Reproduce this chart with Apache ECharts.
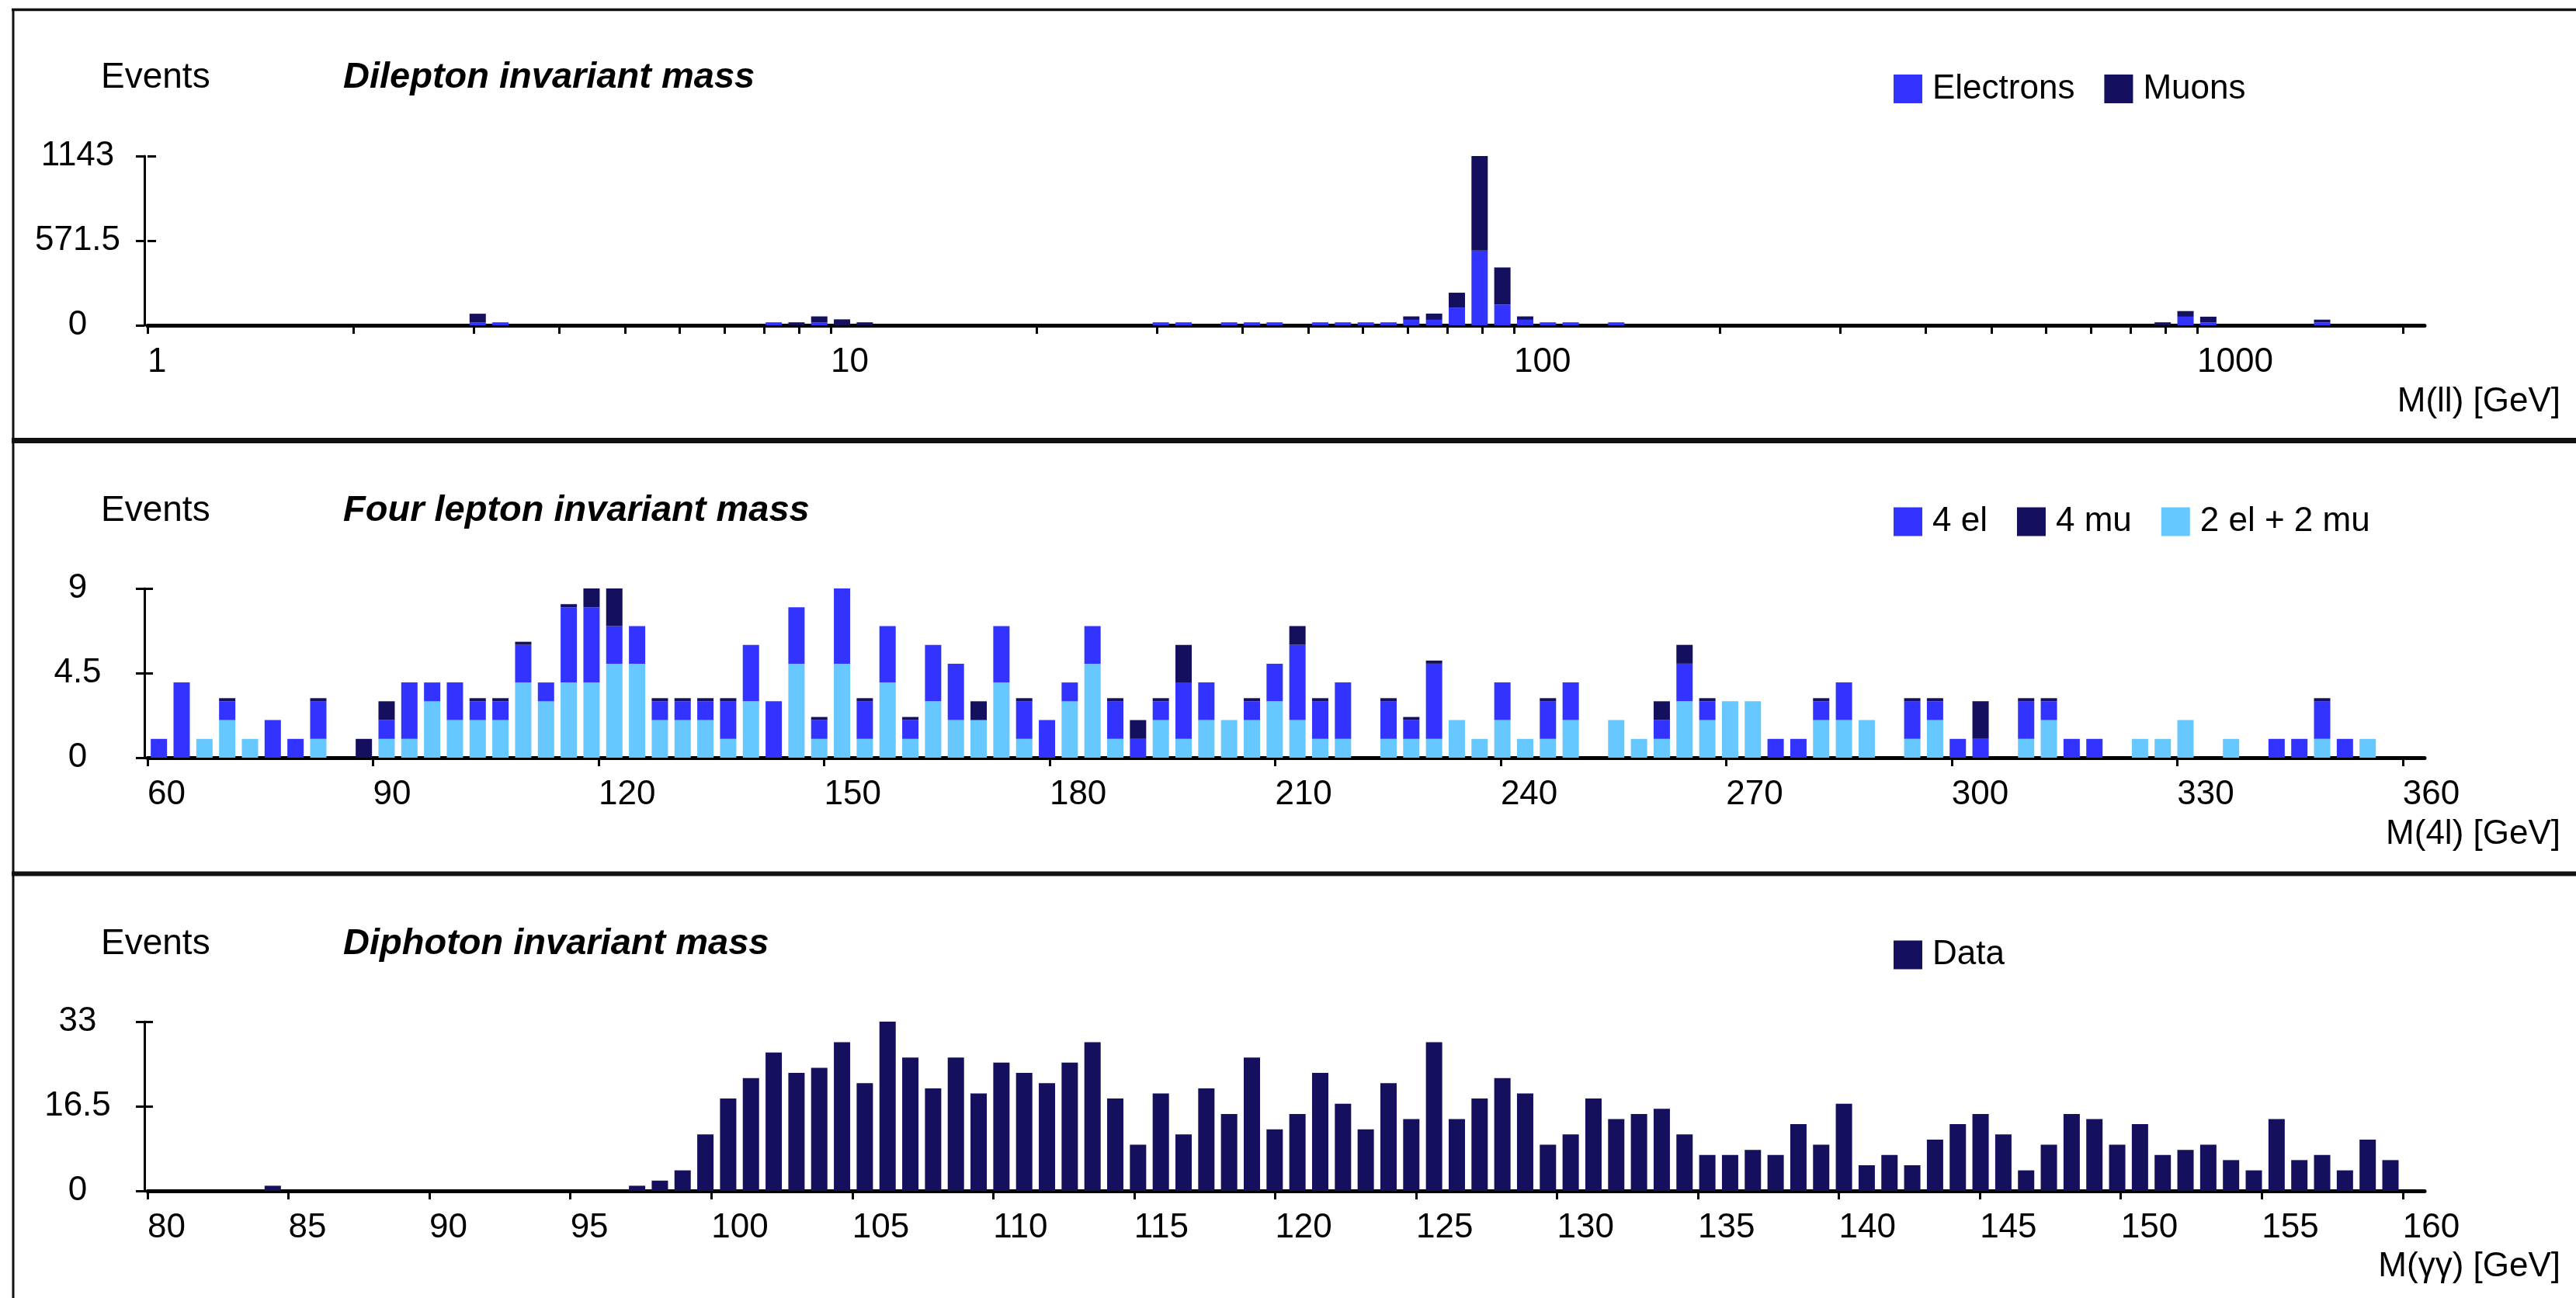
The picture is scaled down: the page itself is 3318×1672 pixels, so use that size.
<!DOCTYPE html>
<html>
<head>
<meta charset="utf-8">
<title>Invariant mass spectra</title>
<script src="https://cdn.jsdelivr.net/npm/echarts@6/dist/echarts.min.js"></script>
<style>
  html, body { margin: 0; padding: 0; background: #fff; }
  #chart { width: 3318px; height: 1672px; }
</style>
</head>
<body>
<div id="chart"></div>
<script>
// every panel is a 100 bin histogram; bin index -> counts

// dilepton, 30 log bins per decade starting at 1 GeV
const dileptonBins = [14, 15, 27, 28, 29, 30, 31, 44, 45, 47, 48, 49, 51, 52, 53, 54, 55, 56, 57, 58, 59, 60, 61, 62, 64, 88, 89, 90, 95];
const electrons    = [20, 20, 20, 0, 20, 0, 0, 20, 20, 20, 20, 20, 20, 20, 20, 20, 37, 37, 120, 505, 140, 37, 20, 20, 20, 0, 58, 19, 19];
const muons        = [58, 0, 0, 20, 40, 40, 20, 0, 0, 0, 0, 0, 0, 0, 0, 0, 23, 42, 100, 638, 250, 23, 0, 0, 0, 20, 38, 39, 19];
const dileptonTicks  = [1, 2, 3, 4, 5, 6, 7, 8, 9, 10, 20, 30, 40, 50, 60, 70, 80, 90, 100, 200, 300, 400, 500, 600, 700, 800, 900, 1000, 2000];
const dileptonLabels = [1, 10, 100, 1000];

// four lepton, 3 GeV bins from 60 GeV (null = no 4 mu entry, 0 = empty entry)
const fourLepBins = [0, 1, 2, 3, 4, 5, 6, 7, 9, 10, 11, 12, 13, 14, 15, 16, 17, 18, 19, 20, 21, 22, 23, 24, 25, 26, 27, 28, 29, 30,
  31, 32, 33, 34, 35, 36, 37, 38, 39, 40, 41, 42, 43, 44, 45, 46, 47, 48, 49, 50, 51, 52, 54, 55, 56, 57, 58, 59, 60, 61, 62,
  64, 65, 66, 67, 68, 69, 70, 71, 72, 73, 74, 75, 77, 78, 79, 80, 82, 83, 84, 85, 87, 88, 89, 91, 93, 94, 95, 96, 97];
const twoElTwoMu = [0, 0, 1, 2, 1, 0, 0, 1, 0, 1, 1, 3, 2, 2, 2, 4, 3, 4, 4, 5, 5, 2, 2, 2, 1, 3, 0, 5, 1, 5,
  1, 4, 1, 3, 2, 2, 4, 1, 0, 3, 5, 1, 0, 2, 1, 2, 2, 2, 3, 2, 1, 1, 1, 1, 1, 2, 1, 2, 1, 1, 2,
  2, 1, 1, 3, 2, 3, 3, 0, 0, 2, 2, 2, 1, 2, 0, 0, 1, 2, 0, 0, 1, 1, 2, 1, 0, 0, 1, 0, 1];
const fourEl = [1, 4, 0, 1, 0, 2, 1, 2, 0, 1, 3, 1, 2, 1, 1, 2, 1, 4, 4, 2, 2, 1, 1, 1, 2, 3, 3, 3, 1, 4,
  2, 3, 1, 3, 3, 0, 3, 2, 2, 1, 2, 2, 1, 1, 3, 2, 0, 1, 2, 4, 2, 3, 2, 1, 4, 0, 0, 2, 0, 2, 2,
  0, 0, 1, 2, 1, 0, 0, 1, 1, 1, 2, 0, 2, 1, 1, 1, 2, 1, 1, 1, 0, 0, 0, 0, 1, 1, 2, 1, 0];
const fourMu = [null, null, null, 0, null, null, null, 0, 1, 1, null, null, null, 0, 0, 0, null, 0, 1, 2, null, 0, 0, 0, 0, null, null, null, 0, 0,
  0, null, 0, null, null, 1, null, 0, null, null, null, 0, 1, 0, 2, null, null, 0, null, 1, 0, null, 0, 0, 0, null, null, null, null, 0, null,
  null, null, 1, 1, 0, null, null, null, null, 0, null, null, 0, 0, null, 2, 0, 0, null, null, null, null, null, null, null, null, 0, null, null];
const fourLepTicks = [60, 90, 120, 150, 180, 210, 240, 270, 300, 330, 360];

// diphoton, 0.8 GeV bins from 80 GeV
const diphotonBins = [5, 21, 22, 23, 24, 25, 26, 27, 28, 29, 30, 31, 32, 33, 34, 35, 36, 37, 38, 39, 40,
  41, 42, 43, 44, 45, 46, 47, 48, 49, 50, 51, 52, 53, 54, 55, 56, 57, 58, 59, 60,
  61, 62, 63, 64, 65, 66, 67, 68, 69, 70, 71, 72, 73, 74, 75, 76, 77, 78, 79, 80,
  81, 82, 83, 84, 85, 86, 87, 88, 89, 90, 91, 92, 93, 94, 95, 96, 97, 98];
const diphotonCounts = [1, 1, 2, 4, 11, 18, 22, 27, 23, 24, 29, 21, 33, 26, 20, 26, 19, 25, 23, 21, 25,
  29, 18, 9, 19, 11, 20, 15, 26, 12, 15, 23, 17, 12, 21, 14, 29, 14, 18, 22, 19,
  9, 11, 18, 14, 15, 16, 11, 7, 7, 8, 7, 13, 9, 17, 5, 7, 5, 10, 13, 15,
  11, 4, 9, 15, 14, 9, 13, 7, 8, 9, 6, 4, 14, 6, 7, 4, 10, 6];
const diphotonTicks = [80, 85, 90, 95, 100, 105, 110, 115, 120, 125, 130, 135, 140, 145, 150, 155, 160];

const BLUE = '#3333ff';
const DARK = '#14105e';
const LIGHT = '#66c8ff';
const FONT = '"Liberation Sans", Arial, Helvetica, sans-serif';

const NBINS = 100;
const GRID_LEFT = 190;
const GRID_W = 2933;
const GRID_H = 218;
const gridTops = [201, 758, 1316];
const binCats = Array.from({ length: NBINS }, (_, i) => String(i));

function fill(bins, vals) {
  const out = new Array(NBINS).fill(null);
  bins.forEach((b, k) => { out[b] = vals[k]; });
  return out;
}

const log10 = v => Math.log10(v);

function xAxes(gi, min, max, ticks, labels, fmt) {
  return [
    { type: 'category', gridIndex: gi, data: binCats, show: false },
    {
      type: 'value', gridIndex: gi, position: 'bottom', min: min, max: max,
      axisLine: { show: true, onZero: false, lineStyle: { color: '#000', width: 5 } },
      axisTick: { show: true, customValues: ticks, length: 11, lineStyle: { color: '#000', width: 3 } },
      axisLabel: { customValues: labels, formatter: fmt, align: 'left', margin: 26, fontSize: 44, fontFamily: FONT, color: '#000' },
      splitLine: { show: false }
    }
  ];
}

function yAxes(gi, max) {
  return [
    {
      type: 'value', gridIndex: gi, min: 0, max: max, interval: max / 2, position: 'left', offset: 4,
      axisLine: { show: true, onZero: false, lineStyle: { color: '#000', width: 3 } },
      axisTick: { show: true, length: 11, lineStyle: { color: '#000', width: 3 } },
      axisLabel: { align: 'center', margin: 86, fontSize: 44, fontFamily: FONT, color: '#000', formatter: v => String(v) },
      splitLine: { show: false }
    },
    {
      // second copy only for the inner half of the cross ticks
      type: 'value', gridIndex: gi, min: 0, max: max, interval: max / 2, position: 'left', offset: 4,
      axisLine: { show: false }, axisLabel: { show: false }, splitLine: { show: false },
      axisTick: { show: true, inside: true, length: 11, lineStyle: { color: '#000', width: 3 } }
    }
  ];
}

function legend(names, top) {
  return {
    data: names, left: 2439, top: top, orient: 'horizontal', padding: 0,
    icon: 'rect', itemWidth: 37, itemHeight: 37, itemGap: 38, selectedMode: false,
    textStyle: { fontSize: 44, fontFamily: FONT, color: '#000', padding: [0, 0, 0, 8] }
  };
}

function text(str, x, y, font, align) {
  return {
    type: 'text', x: x, y: y, silent: true,
    style: { text: str, font: font, fill: '#000', align: align || 'left', verticalAlign: 'middle' }
  };
}

function hline(y, w) {
  return { type: 'line', silent: true, shape: { x1: 15, y1: y, x2: 3318, y2: y }, style: { stroke: '#111', lineWidth: w } };
}

const labelFont = '44px ' + FONT;
const eventsFont = '46px ' + FONT;
const titleFont = 'italic bold 47px ' + FONT;

const chart = echarts.init(document.getElementById('chart'));

const option = {
  animation: false,
  backgroundColor: '#fff',
  grid: gridTops.map(t => ({ left: GRID_LEFT, top: t, width: GRID_W, height: GRID_H })),
  xAxis: [].concat(
    xAxes(0, 0, GRID_W / 880, dileptonTicks.map(log10), dileptonLabels.map(log10), v => String(Math.round(Math.pow(10, v)))),
    xAxes(1, 60, 60 + GRID_W / 9.6827, fourLepTicks, fourLepTicks, v => String(v)),
    xAxes(2, 80, 80 + GRID_W / 36.31, diphotonTicks, diphotonTicks, v => String(v))
  ),
  yAxis: [].concat(yAxes(0, 1143), yAxes(1, 9), yAxes(2, 33)),
  legend: [
    legend(['Electrons', 'Muons'], 92.5),
    legend(['4 el', '4 mu', '2 el + 2 mu'], 650),
    legend(['Data'], 1208)
  ],
  series: [
    { name: 'Electrons', type: 'bar', stack: 'll', xAxisIndex: 0, yAxisIndex: 0, barWidth: 21, itemStyle: { color: BLUE }, data: fill(dileptonBins, electrons) },
    { name: 'Muons', type: 'bar', stack: 'll', xAxisIndex: 0, yAxisIndex: 0, barWidth: 21, itemStyle: { color: DARK }, data: fill(dileptonBins, muons) },
    { name: '2 el + 2 mu', type: 'bar', stack: '4l', xAxisIndex: 2, yAxisIndex: 2, barWidth: 21, itemStyle: { color: LIGHT }, data: fill(fourLepBins, twoElTwoMu) },
    { name: '4 el', type: 'bar', stack: '4l', xAxisIndex: 2, yAxisIndex: 2, barWidth: 21, itemStyle: { color: BLUE }, data: fill(fourLepBins, fourEl) },
    { name: '4 mu', type: 'bar', stack: '4l', xAxisIndex: 2, yAxisIndex: 2, barWidth: 21, barMinHeight: 4, itemStyle: { color: DARK }, data: fill(fourLepBins, fourMu) },
    { name: 'Data', type: 'bar', xAxisIndex: 4, yAxisIndex: 4, barWidth: 21, itemStyle: { color: DARK }, data: fill(diphotonBins, diphotonCounts) }
  ],
  graphic: [
    // frame round the three panels
    { type: 'line', silent: true, shape: { x1: 17, y1: 11, x2: 17, y2: 1672 }, style: { stroke: '#111', lineWidth: 3 } },
    hline(12.5, 3.5),
    hline(567.5, 7),
    hline(1125.5, 6),
    text('Events', 130, 100.5, eventsFont),
    text('Dilepton invariant mass', 442, 100.5, titleFont),
    text('M(ll) [GeV]', 3298, 518, labelFont, 'right'),
    text('Events', 130, 658, eventsFont),
    text('Four lepton invariant mass', 442, 658, titleFont),
    text('M(4l) [GeV]', 3298, 1075, labelFont, 'right'),
    text('Events', 130, 1216, eventsFont),
    text('Diphoton invariant mass', 442, 1216, titleFont),
    text('M(γγ) [GeV]', 3298, 1632, labelFont, 'right')
  ]
};

chart.setOption(option);
</script>
</body>
</html>
